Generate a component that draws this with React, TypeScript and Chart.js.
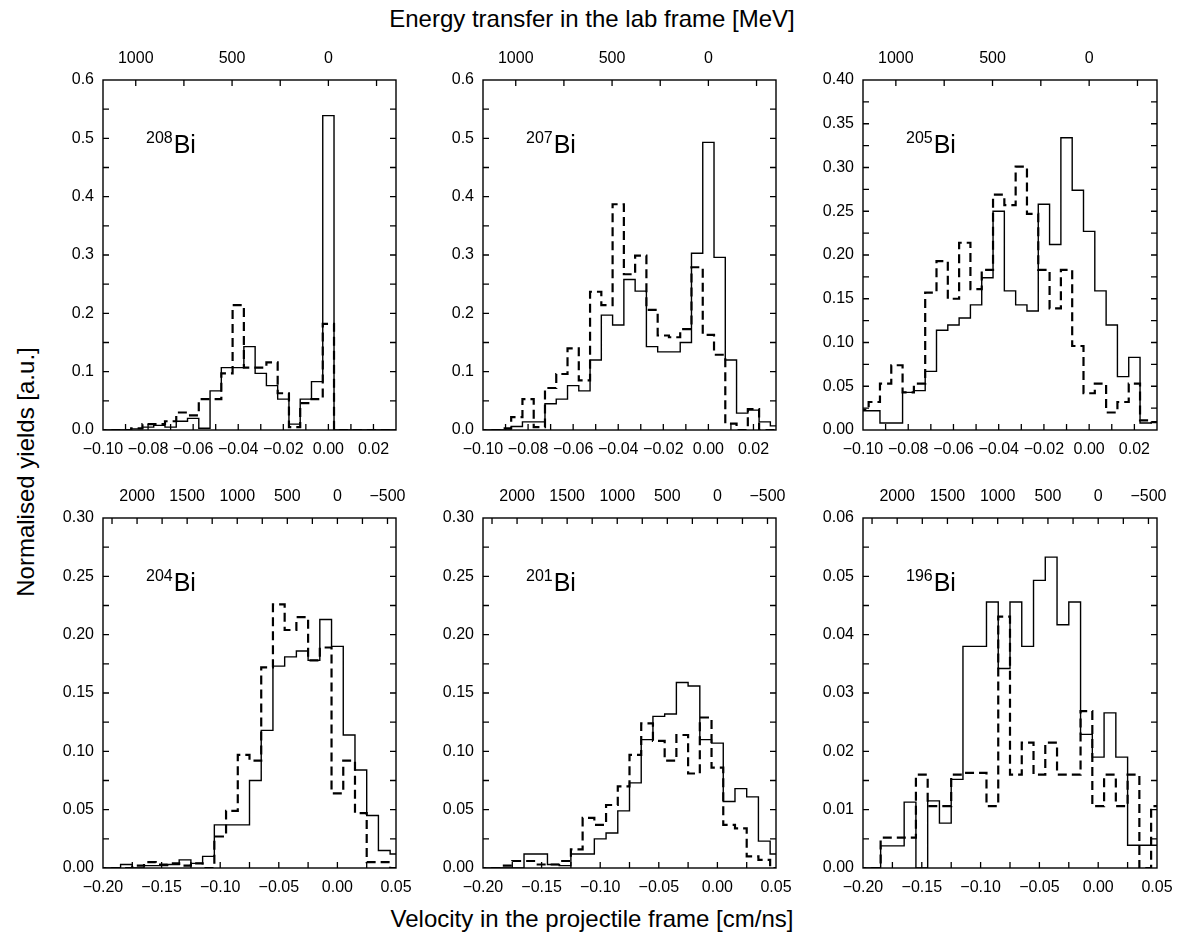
import React, { useEffect, useRef } from "react";
import { Chart, registerables } from "chart.js";

Chart.register(...registerables);

const TICK_FONT = '"Liberation Sans", Arial, sans-serif';
const LABEL_FONT = '"Liberation Sans", Arial, sans-serif';

// Bin centres of the velocity histograms [cm/ns]
const topCenters = [-0.1, -0.095, -0.09, -0.085, -0.08, -0.075, -0.07, -0.065, -0.06, -0.055, -0.05, -0.045, -0.04, -0.035, -0.03, -0.025, -0.02, -0.015, -0.01, -0.005, 0, 0.005, 0.01, 0.015, 0.02, 0.025, 0.03];
const bottomCenters = [-0.2, -0.19, -0.18, -0.17, -0.16, -0.15, -0.14, -0.13, -0.12, -0.11, -0.1, -0.09, -0.08, -0.07, -0.06, -0.05, -0.04, -0.03, -0.02, -0.01, 0, 0.01, 0.02, 0.03, 0.04, 0.05];

// Normalised yields (solid / dashed histograms)
const solid208 = [0, 0, 0, 0.002, 0.005, 0.008, 0.005, 0.015, 0.02, 0.003, 0.067, 0.107, 0.107, 0.143, 0.097, 0.076, 0.053, 0.01, 0.053, 0.083, 0.539, 0, 0, 0, 0, 0, 0];
const dashed208 = [0, 0, 0, 0.003, 0.01, 0.01, 0.015, 0.03, 0.025, 0.053, 0.053, 0.097, 0.214, 0.107, 0.107, 0.116, 0.063, 0.005, 0.046, 0.053, 0.182, 0, 0, 0, 0, 0, 0];

const solid207 = [0, 0, 0, 0.006, 0.014, 0.014, 0.045, 0.053, 0.076, 0.067, 0.12, 0.197, 0.18, 0.258, 0.238, 0.143, 0.134, 0.134, 0.15, 0.303, 0.493, 0.296, 0.12, 0.029, 0.034, 0.014, 0.007];
const dashed207 = [0, 0, 0.003, 0.022, 0.053, 0.005, 0.072, 0.096, 0.14, 0.085, 0.237, 0.214, 0.387, 0.267, 0.299, 0.206, 0.162, 0.159, 0.173, 0.279, 0.163, 0.129, 0.011, 0, 0.036, 0, 0];

const solid205 = [0.022, 0.022, 0.008, 0.008, 0.043, 0.045, 0.067, 0.114, 0.12, 0.128, 0.143, 0.174, 0.25, 0.159, 0.143, 0.136, 0.258, 0.212, 0.334, 0.274, 0.227, 0.159, 0.12, 0.061, 0.083, 0.008, 0.009];
const dashed205 = [0.023, 0.032, 0.053, 0.074, 0.043, 0.053, 0.157, 0.193, 0.15, 0.214, 0.161, 0.183, 0.269, 0.257, 0.301, 0.247, 0.183, 0.139, 0.183, 0.096, 0.042, 0.053, 0.02, 0.032, 0.053, 0.011, 0.009];

const solid204 = [0, 0, 0.003, 0, 0.002, 0.002, 0.003, 0.007, 0.004, 0.01, 0.037, 0.037, 0.037, 0.075, 0.118, 0.173, 0.181, 0.186, 0.178, 0.213, 0.19, 0.114, 0.084, 0.045, 0.015, 0.012];
const dashed204 = [0, 0, 0, 0.002, 0.005, 0.003, 0.004, 0.002, 0.004, 0, 0.027, 0.049, 0.097, 0.092, 0.172, 0.226, 0.204, 0.215, 0.178, 0.189, 0.064, 0.092, 0.047, 0.005, 0.005, 0];

const solid201 = [0, 0, 0, 0, 0.012, 0.012, 0.003, 0.002, 0.012, 0.012, 0.025, 0.03, 0.049, 0.073, 0.11, 0.13, 0.132, 0.159, 0.156, 0.11, 0.107, 0.057, 0.068, 0.061, 0.023, 0.012];
const dashed201 = [0, 0, 0.002, 0.006, 0.006, 0.003, 0.003, 0.006, 0.016, 0.043, 0.037, 0.054, 0.07, 0.097, 0.124, 0.109, 0.092, 0.114, 0.081, 0.129, 0.086, 0.037, 0.034, 0.01, 0.007, 0];

const solid196 = [0, 0, 0.0038, 0.0038, 0.0113, 0, 0.0115, 0.0077, 0.0152, 0.038, 0.038, 0.0456, 0.0342, 0.0456, 0.038, 0.0493, 0.0533, 0.0417, 0.0456, 0.0229, 0.019, 0.0266, 0.019, 0.0039, 0.0039, 0.0039];
const dashed196 = [0, 0, 0.0052, 0.0052, 0.0052, 0.016, 0.0106, 0.0106, 0.016, 0.0163, 0.0163, 0.0106, 0.0431, 0.016, 0.0215, 0.016, 0.0215, 0.016, 0.016, 0.0269, 0.0106, 0.016, 0.0106, 0.016, 0, 0.0106];

// Axis settings
const topVelRange = [-0.1, 0.03];
const bottomVelRange = [-0.2, 0.05];
const topEnergyTicks = [-250, 0, 250, 500, 750, 1000];
const bottomEnergyTicks = [-500, -250, 0, 250, 500, 750, 1000, 1250, 1500, 1750, 2000, 2250];
const MEV_PER_CM_NS = 11700; // energy transfer per unit of velocity (top axis conversion)

const PAD_L = 60;
const PAD_T = 40;
const PAD_B = 40;
const PAD_R = 30;

type PanelCfg = {
  mass: string;
  centers: number[];
  solid: number[];
  dashed: number[];
  vel: number[];
  velStep: number;
  velLabelStep: number;
  eTicks: number[];
  yMax: number;
  yStep: number;
  yLabelStep: number;
  yDec: number;
  left: number;
  top: number;
  width: number;
  height: number;
};

const panels: PanelCfg[] = [
  { mass: "208", centers: topCenters, solid: solid208, dashed: dashed208, vel: topVelRange, velStep: 0.01, velLabelStep: 0.02, eTicks: topEnergyTicks, yMax: 0.6, yStep: 0.05, yLabelStep: 0.1, yDec: 1, left: 103, top: 80, width: 293, height: 350 },
  { mass: "207", centers: topCenters, solid: solid207, dashed: dashed207, vel: topVelRange, velStep: 0.01, velLabelStep: 0.02, eTicks: topEnergyTicks, yMax: 0.6, yStep: 0.05, yLabelStep: 0.1, yDec: 1, left: 483, top: 80, width: 293, height: 350 },
  { mass: "205", centers: topCenters, solid: solid205, dashed: dashed205, vel: topVelRange, velStep: 0.01, velLabelStep: 0.02, eTicks: topEnergyTicks, yMax: 0.4, yStep: 0.025, yLabelStep: 0.05, yDec: 2, left: 863, top: 80, width: 294, height: 350 },
  { mass: "204", centers: bottomCenters, solid: solid204, dashed: dashed204, vel: bottomVelRange, velStep: 0.025, velLabelStep: 0.05, eTicks: bottomEnergyTicks, yMax: 0.3, yStep: 0.025, yLabelStep: 0.05, yDec: 2, left: 103, top: 518, width: 293, height: 350 },
  { mass: "201", centers: bottomCenters, solid: solid201, dashed: dashed201, vel: bottomVelRange, velStep: 0.025, velLabelStep: 0.05, eTicks: bottomEnergyTicks, yMax: 0.3, yStep: 0.025, yLabelStep: 0.05, yDec: 2, left: 483, top: 518, width: 293, height: 350 },
  { mass: "196", centers: bottomCenters, solid: solid196, dashed: dashed196, vel: bottomVelRange, velStep: 0.025, velLabelStep: 0.05, eTicks: bottomEnergyTicks, yMax: 0.06, yStep: 0.005, yLabelStep: 0.01, yDec: 2, left: 863, top: 518, width: 294, height: 350 },
];

function histPoints(centers: number[], values: number[]) {
  const w = centers[1] - centers[0];
  const pts = [{ x: centers[0] - w / 2, y: 0 }];
  centers.forEach((c, i) => pts.push({ x: c - w / 2, y: values[i] }));
  pts.push({ x: centers[centers.length - 1] + w / 2, y: 0 });
  return pts;
}

function isMultiple(v: number, step: number) {
  const r = v / step;
  return Math.abs(r - Math.round(r)) < 1e-6;
}

function fmt(v: number, dec: number) {
  const neg = v < -1e-9;
  return (neg ? "\u2212" : "") + Math.abs(v).toFixed(dec);
}

const framePlugin = {
  id: "frame",
  afterDatasetsDraw(chart: any, _args: any, opts: any) {
    const { ctx, chartArea: a, scales } = chart;
    ctx.save();
    ctx.strokeStyle = "#000";
    ctx.lineWidth = 1.4;
    ctx.strokeRect(a.left, a.top, a.right - a.left, a.bottom - a.top);
    const L = 6;
    ctx.lineWidth = 1.3;
    ctx.beginPath();
    const inside = (p: number, lo: number, hi: number) => p > lo + 1 && p < hi - 1;
    scales.x.ticks.forEach((t: any) => {
      const p = scales.x.getPixelForValue(t.value);
      if (!inside(p, a.left, a.right)) return;
      ctx.moveTo(p, a.bottom);
      ctx.lineTo(p, a.bottom - L);
    });
    scales.x2.ticks.forEach((t: any) => {
      const p = scales.x2.getPixelForValue(t.value);
      if (!inside(p, a.left, a.right)) return;
      ctx.moveTo(p, a.top);
      ctx.lineTo(p, a.top + L);
    });
    scales.y.ticks.forEach((t: any) => {
      const p = scales.y.getPixelForValue(t.value);
      if (!inside(p, a.top, a.bottom)) return;
      ctx.moveTo(a.left, p);
      ctx.lineTo(a.left + L, p);
      ctx.moveTo(a.right, p);
      ctx.lineTo(a.right - L, p);
    });
    ctx.stroke();
    // isotope label
    ctx.fillStyle = "#000";
    ctx.textBaseline = "alphabetic";
    ctx.textAlign = "left";
    ctx.font = `16px ${LABEL_FONT}`;
    const x0 = a.left + 43;
    ctx.fillText(opts.mass, x0, a.top + 63);
    const w = ctx.measureText(opts.mass).width;
    ctx.font = `25px ${LABEL_FONT}`;
    ctx.fillText("Bi", x0 + w + 1, a.top + 73);
    ctx.restore();
  },
};

function Panel({ cfg }: { cfg: PanelCfg }) {
  const ref = useRef<HTMLCanvasElement>(null);
  const cw = cfg.width + PAD_L + PAD_R;
  const ch = cfg.height + PAD_T + PAD_B;
  useEffect(() => {
    if (!ref.current) return;
    const eMin = -cfg.vel[1] * MEV_PER_CM_NS;
    const eMax = -cfg.vel[0] * MEV_PER_CM_NS;
    const tickFont = { family: TICK_FONT, size: 16 };
    const chart = new Chart(ref.current, {
      type: "line",
      data: {
        datasets: [
          {
            data: histPoints(cfg.centers, cfg.solid),
            borderColor: "#000",
            borderWidth: 1.4,
            pointRadius: 0,
            stepped: true,
            fill: false,
            clip: 0,
          } as any,
          {
            data: histPoints(cfg.centers, cfg.dashed),
            borderColor: "#000",
            borderWidth: 2.2,
            borderDash: [9, 5],
            pointRadius: 0,
            stepped: true,
            fill: false,
            clip: 0,
          } as any,
        ],
      },
      options: {
        responsive: false,
        animation: false,
        events: [],
        layout: { autoPadding: false, padding: { left: 0, top: 0, bottom: 0, right: PAD_R } },
        plugins: {
          legend: { display: false },
          tooltip: { enabled: false },
          frame: { mass: cfg.mass },
        } as any,
        scales: {
          x: {
            type: "linear",
            position: "bottom",
            min: cfg.vel[0],
            max: cfg.vel[1],
            grid: { display: false, drawTicks: false },
            border: { display: false },
            afterFit: (s: any) => { s.height = PAD_B; },
            ticks: {
              stepSize: cfg.velStep,
              maxTicksLimit: 1000,
              autoSkip: false,
              maxRotation: 0,
              minRotation: 0,
              padding: 10,
              color: "#000",
              font: tickFont,
              callback: (v: any) => (isMultiple(Number(v), cfg.velLabelStep) ? fmt(Number(v), 2) : ""),
            },
          },
          x2: {
            type: "linear",
            axis: "x",
            position: "top",
            reverse: true,
            min: eMin,
            max: eMax,
            grid: { display: false, drawTicks: false },
            border: { display: false },
            afterFit: (s: any) => { s.height = PAD_T; },
            afterBuildTicks: (s: any) => { s.ticks = cfg.eTicks.map((v) => ({ value: v })); },
            ticks: {
              autoSkip: false,
              maxRotation: 0,
              minRotation: 0,
              padding: 12,
              color: "#000",
              font: tickFont,
              callback: (v: any) => (isMultiple(Number(v), 500) ? fmt(Number(v), 0) : ""),
            },
          } as any,
          y: {
            type: "linear",
            min: 0,
            max: cfg.yMax,
            grid: { display: false, drawTicks: false },
            border: { display: false },
            afterFit: (s: any) => { s.width = PAD_L; },
            ticks: {
              stepSize: cfg.yStep,
              maxTicksLimit: 1000,
              autoSkip: false,
              padding: 9,
              color: "#000",
              font: tickFont,
              callback: (v: any) => (isMultiple(Number(v), cfg.yLabelStep) ? fmt(Number(v), cfg.yDec) : ""),
            },
          },
        },
      } as any,
      plugins: [framePlugin as any],
    });
    return () => chart.destroy();
  }, []);
  return (
    <canvas
      ref={ref}
      width={cw}
      height={ch}
      style={{ position: "absolute", left: cfg.left - PAD_L, top: cfg.top - PAD_T, width: cw, height: ch }}
    />
  );
}

export default function App() {
  const titleStyle: React.CSSProperties = {
    position: "absolute",
    fontFamily: LABEL_FONT,
    fontSize: 24,
    color: "#000",
    whiteSpace: "nowrap",
    lineHeight: "28px",
  };
  return (
    <div style={{ position: "absolute", left: 0, top: 0, width: 1184, height: 938, background: "#fff", overflow: "hidden" }}>
      <div style={{ ...titleStyle, left: 592, top: 5, transform: "translateX(-50%)" }}>Energy transfer in the lab frame [MeV]</div>
      <div style={{ ...titleStyle, left: 592, top: 905, transform: "translateX(-50%)" }}>Velocity in the projectile frame [cm/ns]</div>
      <div style={{ ...titleStyle, left: 26, top: 472, transform: "translate(-50%, -50%) rotate(-90deg)" }}>Normalised yields [a.u.]</div>
      {panels.map((p) => (
        <Panel key={p.mass} cfg={p} />
      ))}
    </div>
  );
}
